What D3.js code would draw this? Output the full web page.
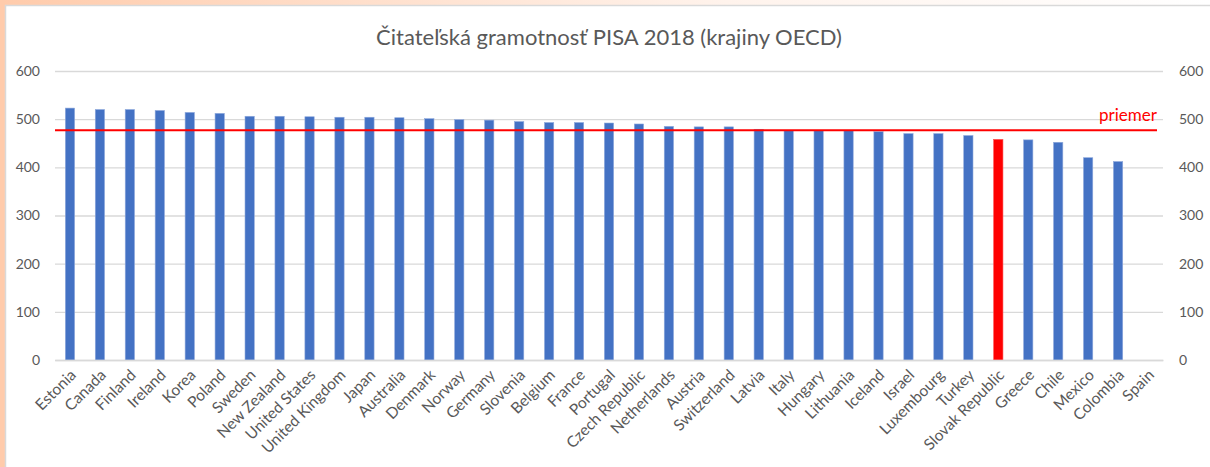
<!DOCTYPE html>
<html>
<head>
<meta charset="utf-8">
<script src="https://cdn.jsdelivr.net/npm/d3@7"></script>
<style>
  body { margin: 0; background: #fff; }
  svg { display: block; font-family: Lato, "Open Sans", sans-serif; }
</style>
</head>
<body>
<svg class="chart" width="1210" height="467"></svg>
<script>
const countries = ['Estonia', 'Canada', 'Finland', 'Ireland', 'Korea', 'Poland', 'Sweden',
  'New Zealand', 'United States', 'United Kingdom', 'Japan', 'Australia', 'Denmark', 'Norway',
  'Germany', 'Slovenia', 'Belgium', 'France', 'Portugal', 'Czech Republic', 'Netherlands',
  'Austria', 'Switzerland', 'Latvia', 'Italy', 'Hungary', 'Lithuania', 'Iceland', 'Israel',
  'Luxembourg', 'Turkey', 'Slovak Republic', 'Greece', 'Chile', 'Mexico', 'Colombia', 'Spain'];
const scores = [523, 520, 520, 518, 514, 512, 506, 506, 505, 504, 504, 503, 501, 499, 498, 495,
  493, 493, 492, 490, 485, 484, 484, 479, 476, 476, 476, 474, 470, 470, 466, 458, 457, 452,
  420, 412, null];
const average = 477;
const highlight = 'Slovak Republic';
const yTicks = [0, 100, 200, 300, 400, 500, 600];
const title = 'Čitateľská gramotnosť PISA 2018 (krajiny OECD)';
const averageLabel = 'priemer';

const startApp = () => {
  const plot = { left: 55, right: 1163, top: 71, bottom: 360 };
  const svg = d3.select('.chart');
  const data = countries.map((name, i) => ({ name, score: scores[i] }));

  // slide background around the chart frame
  const grad = svg.append('defs').append('linearGradient').attr('id', 'topfade');
  grad.append('stop').attr('offset', '0%').attr('stop-color', '#ffcbab');
  grad.append('stop').attr('offset', '60%').attr('stop-color', '#fff3ec');
  grad.append('stop').attr('offset', '100%').attr('stop-color', '#ffffff');
  svg.append('rect').attr('width', 1210).attr('height', 5).attr('fill', 'url(#topfade)');
  svg.append('rect').attr('width', 5).attr('height', 467).attr('fill', '#ffcbab');
  svg.append('rect')
    .attr('x', 5.5).attr('y', 5.5).attr('width', 1210).attr('height', 470)
    .attr('fill', '#fff').attr('stroke', '#d9d9d9').attr('stroke-width', 1.5);

  const xScale = d3.scaleBand().domain(countries).range([plot.left, plot.right]).padding(0);
  const yScale = d3.scaleLinear().domain([0, 600]).range([plot.bottom, plot.top]);
  const barWidth = xScale.bandwidth() * 0.31;

  svg.append('text')
    .attr('x', (plot.left + plot.right) / 2)
    .attr('y', 45)
    .attr('text-anchor', 'middle')
    .attr('fill', '#595959')
    .style('font-size', '22px')
    .text(title);

  const grid = svg.append('g')
    .attr('transform', `translate(${plot.left}, 0)`)
    .call(d3.axisRight(yScale).tickValues(yTicks).tickSize(plot.right - plot.left).tickFormat(''));
  grid.select('.domain').remove();
  grid.selectAll('line').attr('stroke', '#d9d9d9').attr('stroke-width', 1.3);

  const leftAxis = svg.append('g')
    .attr('transform', `translate(${plot.left}, 0)`)
    .call(d3.axisLeft(yScale).tickValues(yTicks).tickSize(0).tickPadding(15));
  const rightAxis = svg.append('g')
    .attr('transform', `translate(${plot.right}, 0)`)
    .call(d3.axisRight(yScale).tickValues(yTicks).tickSize(0).tickPadding(16));
  [leftAxis, rightAxis].forEach((axis) => {
    axis.select('.domain').remove();
    axis.selectAll('text').attr('fill', '#595959').style('font-size', '14px')
      .style('font-family', 'Lato, sans-serif');
  });

  svg.append('g').selectAll('rect')
    .data(data.filter(d => d.score !== null))
    .enter()
    .append('rect')
    .attr('x', d => xScale(d.name) + (xScale.bandwidth() - barWidth) / 2)
    .attr('y', d => yScale(d.score))
    .attr('width', barWidth)
    .attr('height', d => yScale(0) - yScale(d.score))
    .attr('fill', d => (d.name === highlight ? '#ff0000' : '#4472c4'))
    .attr('stroke', d => (d.name === highlight ? '#ff4d4d' : '#8fa9dc'))
    .attr('stroke-width', 0.6);

  const xAxis = svg.append('g')
    .attr('transform', `translate(0, ${plot.bottom})`)
    .call(d3.axisBottom(xScale).tickSize(0).tickPadding(0));
  xAxis.select('.domain').attr('stroke', '#d9d9d9').attr('stroke-width', 1.3);
  xAxis.selectAll('text')
    .attr('fill', '#595959')
    .style('font-size', '15.5px')
    .style('font-family', 'Lato, sans-serif')
    .attr('text-anchor', 'end')
    .attr('dy', 0)
    .attr('transform', 'translate(7, 16) rotate(-45)');

  const avgY = yScale(average);
  svg.append('line')
    .attr('x1', plot.left).attr('x2', 1157)
    .attr('y1', avgY).attr('y2', avgY)
    .attr('stroke', '#ff0000').attr('stroke-width', 2);
  svg.append('text')
    .attr('x', 1157)
    .attr('y', avgY - 9)
    .attr('text-anchor', 'end')
    .attr('fill', '#ff0000')
    .style('font-size', '17px')
    .text(averageLabel);
};

window.onload = startApp;
</script>
</body>
</html>
